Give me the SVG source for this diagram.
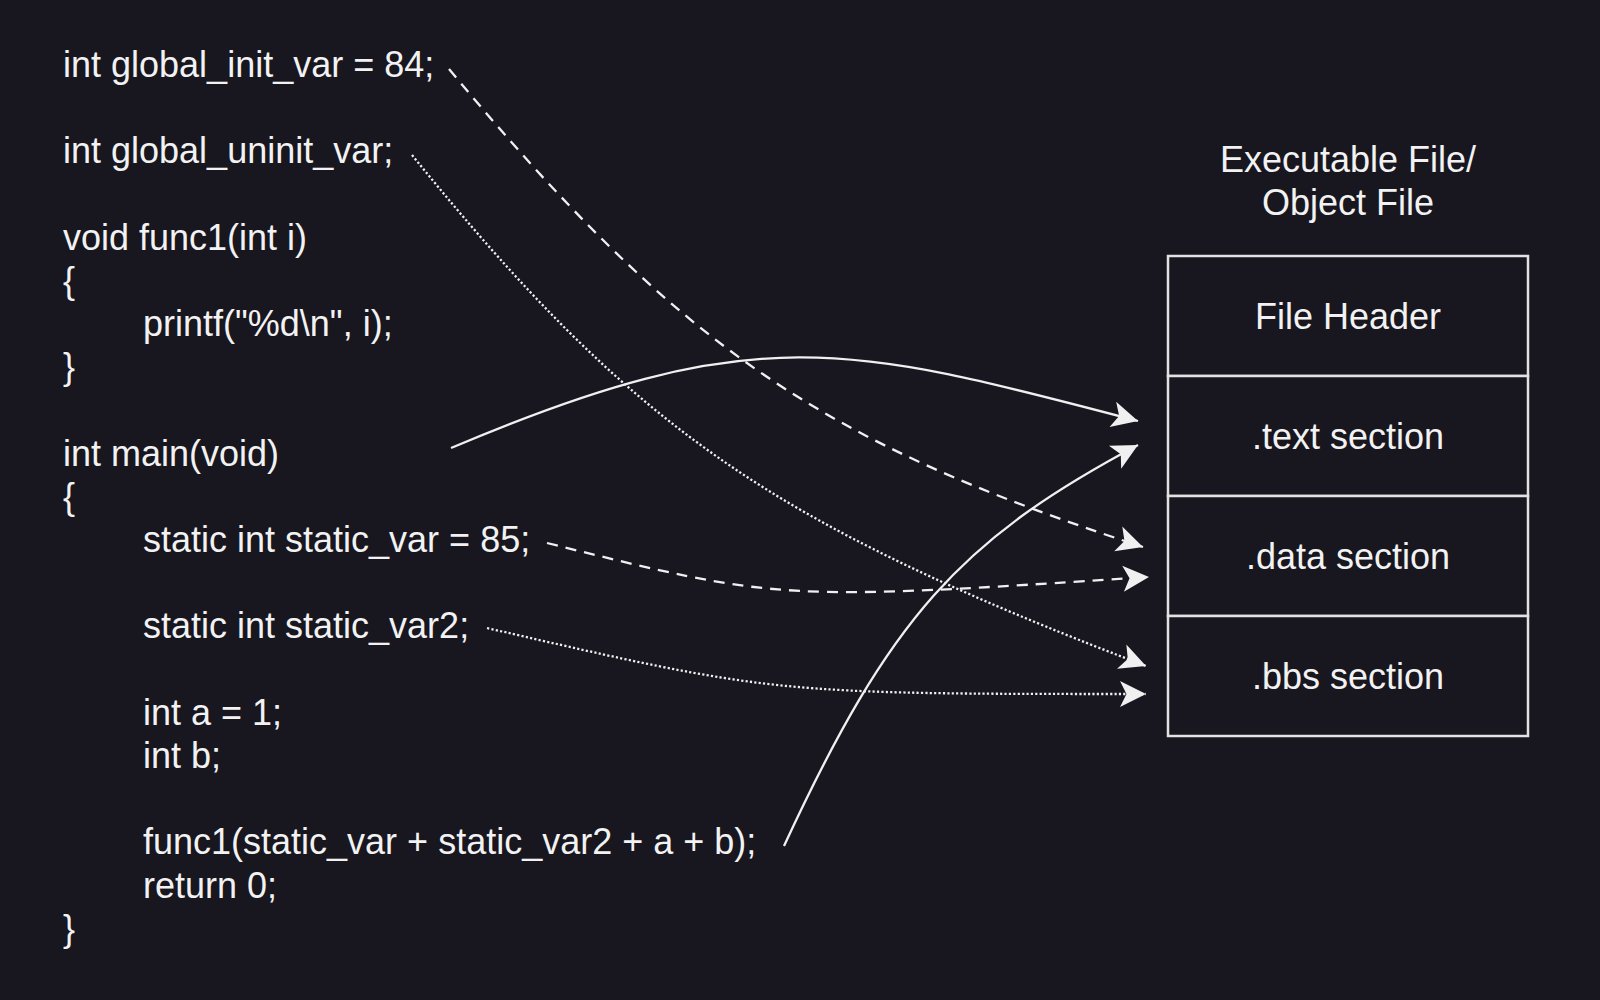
<svg xmlns="http://www.w3.org/2000/svg" width="1600" height="1000" viewBox="0 0 1600 1000">
  <style>
    .t { font-family: "Liberation Sans", Arial, sans-serif; font-size: 36px; fill: #f2f2f2; }
    .c { text-anchor: middle; }
    .box { fill: #18161f; stroke: #e2e2e2; stroke-width: 2.5; }
    .edge { fill: none; stroke: #f0f0f0; stroke-width: 2.3; marker-end: url(#arrow); }
    .dashed { stroke-dasharray: 11 8; }
    .dotted { stroke-dasharray: 2.2 2.2; }
  </style>
  <defs>
    <marker id="arrow" markerUnits="userSpaceOnUse" orient="auto" refX="0" refY="0" markerWidth="40" markerHeight="40" viewBox="-30 -20 40 40" overflow="visible">
      <path d="M0,0 L-26,-13 L-19.5,0 L-26,13 Z" fill="#f0f0f0" stroke="none"/>
    </marker>
  </defs>
  <rect x="0" y="0" width="1600" height="1000" fill="#18161f"/>

  <g id="code">
    <text class="t" x="63" y="76.8">int global_init_var = 84;</text>
    <text class="t" x="63" y="163.2">int global_uninit_var;</text>
    <text class="t" x="63" y="249.6">void func1(int i)</text>
    <text class="t" x="63" y="292.8">{</text>
    <text class="t" x="143" y="336">printf("%d\n", i);</text>
    <text class="t" x="63" y="379.2">}</text>
    <text class="t" x="63" y="465.6">int main(void)</text>
    <text class="t" x="63" y="508.8">{</text>
    <text class="t" x="143" y="552">static int static_var = 85;</text>
    <text class="t" x="143" y="638.4">static int static_var2;</text>
    <text class="t" x="143" y="724.8">int a = 1;</text>
    <text class="t" x="143" y="768">int b;</text>
    <text class="t" x="143" y="854.4">func1(static_var + static_var2 + a + b);</text>
    <text class="t" x="143" y="897.6">return 0;</text>
    <text class="t" x="63" y="940.8">}</text>
  </g>

  <g id="title">
    <text class="t c" x="1348" y="172">Executable File/</text>
    <text class="t c" x="1348" y="215">Object File</text>
  </g>

  <g id="file-header">
    <rect class="box" x="1168" y="256" width="360" height="120"/>
    <text class="t c" x="1348" y="329">File Header</text>
  </g>
  <g id="text-section">
    <rect class="box" x="1168" y="376" width="360" height="120"/>
    <text class="t c" x="1348" y="449">.text section</text>
  </g>
  <g id="data-section">
    <rect class="box" x="1168" y="496" width="360" height="120"/>
    <text class="t c" x="1348" y="569">.data section</text>
  </g>
  <g id="bbs-section">
    <rect class="box" x="1168" y="616" width="360" height="120"/>
    <text class="t c" x="1348" y="689">.bbs section</text>
  </g>

  <g id="connectors">
    <path class="edge dashed" d="M449,69 C679,346 817,441 1143,547"/>
    <path class="edge dotted" d="M412,155 C634,429 767,521 1146,666"/>
    <path class="edge" d="M451,448 C755,319 848,344.5 1138,421"/>
    <path class="edge dashed" d="M547,543 C780,601 780,601 1149,577"/>
    <path class="edge dotted" d="M487,628 C774,694 774,694 1146,694"/>
    <path class="edge" d="M784,846 C890,617 960,540 1138,445"/>
  </g>
</svg>
